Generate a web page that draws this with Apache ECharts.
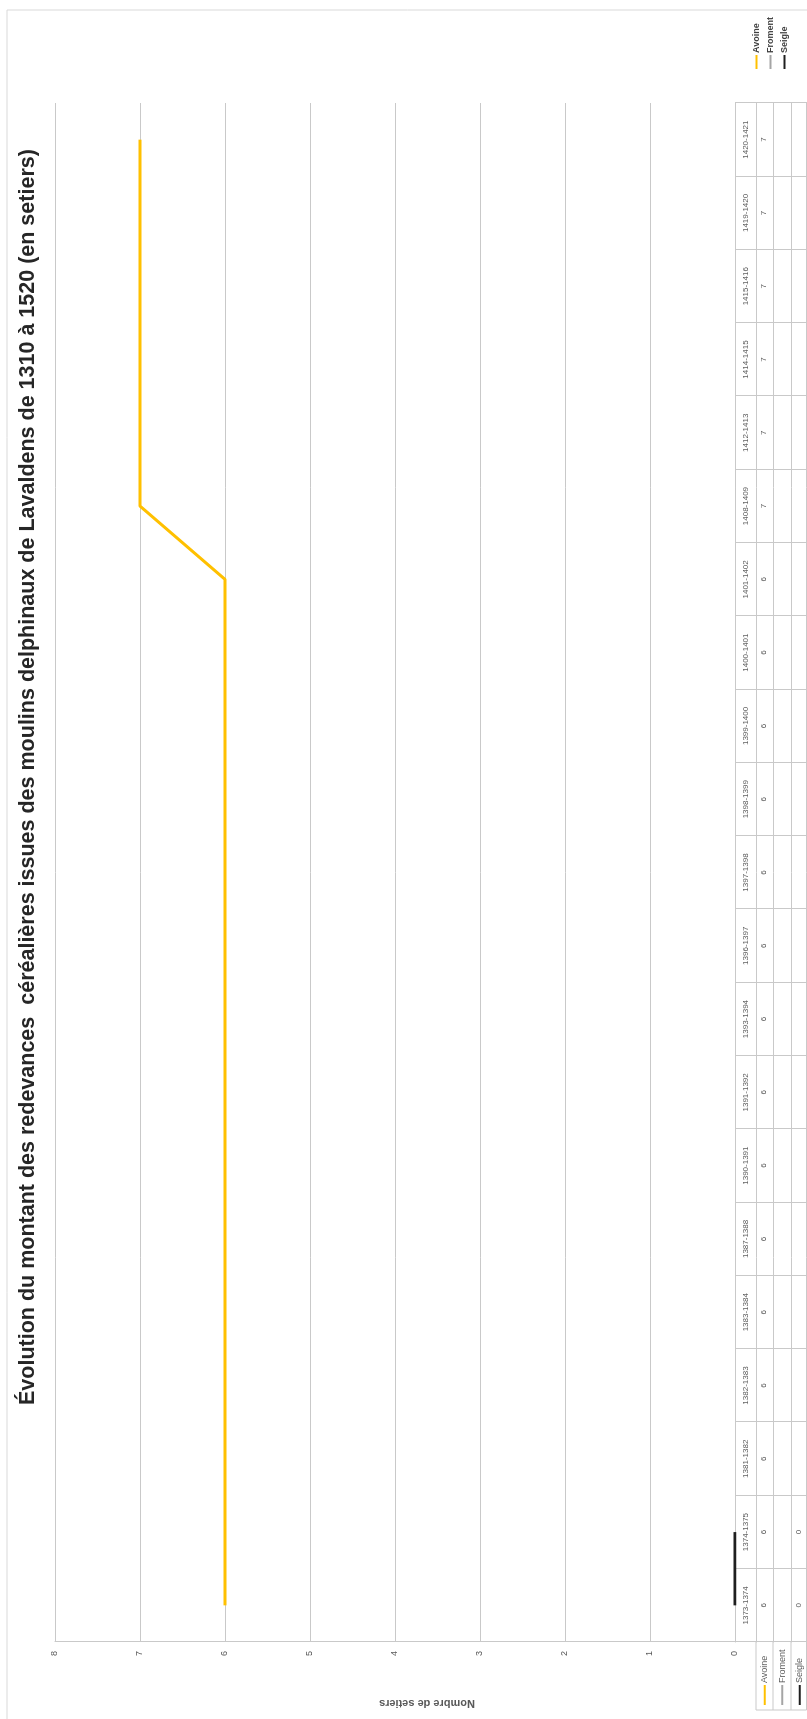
<!DOCTYPE html>
<html>
<head>
<meta charset="utf-8">
<script src="https://cdn.jsdelivr.net/npm/echarts@6/dist/echarts.min.js"></script>
<style>
  html, body { margin: 0; padding: 0; width: 807px; height: 1719px; overflow: hidden; background: #fff; }
  #chart {
    position: absolute; left: 0; top: 0;
    width: 1719px; height: 807px;
    transform-origin: 0 0;
    transform: translate(0px, 1719px) rotate(-90deg);
  }
</style>
</head>
<body>
<div id="chart"></div>
<script>
// ---- data ----
const categories = ['1373-1374','1374-1375','1381-1382','1382-1383','1383-1384','1387-1388','1390-1391',
  '1391-1392','1393-1394','1396-1397','1397-1398','1398-1399','1399-1400','1400-1401','1401-1402',
  '1408-1409','1412-1413','1414-1415','1415-1416','1419-1420','1420-1421'];
const avoine  = [6,6,6,6,6,6,6,6,6,6,6,6,6,6,6,7,7,7,7,7,7];
const froment = [null,null,null,null,null,null,null,null,null,null,null,null,null,null,null,null,null,null,null,null,null];
const seigle  = [0,0,null,null,null,null,null,null,null,null,null,null,null,null,null,null,null,null,null,null,null];
const seriesNames = ['Avoine','Froment','Seigle'];
const seriesColors = ['#FFC000','#A5A5A5','#1f1f1f'];
const titleText = 'Évolution du montant des redevances  céréalières issues des moulins delphinaux de Lavaldens de 1310 à 1520 (en setiers)';
const yAxisName = 'Nombre de setiers';

const FONT = 'Liberation Sans, Arial, sans-serif';
const gridCol = '#c9c9c9';
const txtCol = '#595959';

const chart = echarts.init(document.getElementById('chart'), null, { renderer: 'canvas' });

function tableAxis(offset, values) {
  return {
    type: 'category', data: categories, gridIndex: 0, position: 'bottom', offset: offset,
    boundaryGap: true,
    axisLine: { show: true, lineStyle: { color: gridCol, width: 1 } },
    axisTick: { show: false },
    splitLine: { show: false },
    axisLabel: values ? {
      show: true, interval: 0, margin: 4, fontSize: 8, color: txtCol, fontFamily: FONT,
      formatter: (v, i) => (values[i] === null || values[i] === undefined) ? '' : String(values[i])
    } : { show: false }
  };
}

const option = {
  animation: false,
  backgroundColor: '#fff',
  title: {
    text: titleText, left: 314, top: 17, padding: 0,
    textStyle: { fontFamily: FONT, fontSize: 21.5, fontWeight: 'bold', color: '#262626' }
  },
  legend: [
    {
      data: seriesNames, orient: 'vertical', right: 17, top: 751, itemGap: 3, padding: 0,
      icon: 'rect', itemWidth: 14, itemHeight: 2, selectedMode: false,
      textStyle: { fontFamily: FONT, fontSize: 9, fontWeight: 'bold', color: '#404040', lineHeight: 11, padding: [0,0,0,-3] }
    },
    {
      data: seriesNames, orient: 'vertical', left: 14, top: 759, itemGap: 6, padding: 0,
      icon: 'rect', itemWidth: 20, itemHeight: 2, selectedMode: false,
      textStyle: { fontFamily: FONT, fontSize: 9, color: txtCol, lineHeight: 11.5, padding: [0,0,0,-3] }
    }
  ],
  grid: { left: 77, right: 103, top: 55, bottom: 72, containLabel: false },
  xAxis: [
    {
      type: 'category', data: categories, gridIndex: 0, position: 'bottom', boundaryGap: true,
      axisLine: { show: true, lineStyle: { color: gridCol, width: 1 } },
      axisTick: { show: true, interval: 0, length: 72, lineStyle: { color: gridCol } },
      axisLabel: { interval: 0, margin: 7, fontSize: 8, color: txtCol, fontFamily: FONT },
      splitLine: { show: false }
    },
    tableAxis(21, avoine),
    tableAxis(38, froment),
    tableAxis(56, seigle),
    tableAxis(71, null)
  ],
  yAxis: {
    type: 'value', min: 0, max: 8, interval: 1,
    name: yAxisName, nameLocation: 'middle', nameRotate: 90, nameGap: 56,
    nameTextStyle: { fontFamily: FONT, fontSize: 11, fontWeight: 'bold', color: txtCol, padding: [0, 64, 0, 0] },
    axisLine: { show: true, lineStyle: { color: gridCol } },
    axisTick: { show: false },
    axisLabel: { fontSize: 9, color: txtCol, margin: 9, fontFamily: FONT },
    splitLine: { show: true, lineStyle: { color: gridCol, width: 1 } }
  },
  series: [
    { name: seriesNames[0], type: 'line', data: avoine, xAxisIndex: 0, symbol: 'none',
      color: seriesColors[0], lineStyle: { width: 3, color: seriesColors[0] }, connectNulls: false },
    { name: seriesNames[1], type: 'line', data: froment, xAxisIndex: 0, symbol: 'none',
      color: seriesColors[1], lineStyle: { width: 3, color: seriesColors[1] } },
    { name: seriesNames[2], type: 'line', data: seigle, xAxisIndex: 0, symbol: 'none',
      color: seriesColors[2], lineStyle: { width: 3, color: seriesColors[2] } }
  ],
  graphic: [
    // outer chart border
    { type: 'rect', shape: { x: -5, y: 7, width: 1714, height: 820 }, silent: true,
      style: { fill: null, stroke: '#d9d9d9', lineWidth: 1 } },
    // row-header box of the data table
    { type: 'polyline', silent: true, shape: { points: [[77, 756], [9, 756], [9, 806.5], [77, 806.5]] },
      style: { fill: null, stroke: gridCol, lineWidth: 1 } },
    { type: 'line', silent: true, shape: { x1: 9, y1: 773, x2: 77, y2: 773 }, style: { stroke: gridCol, lineWidth: 1 } },
    { type: 'line', silent: true, shape: { x1: 9, y1: 791, x2: 77, y2: 791 }, style: { stroke: gridCol, lineWidth: 1 } }
  ]
};
chart.setOption(option);
</script>
</body>
</html>
